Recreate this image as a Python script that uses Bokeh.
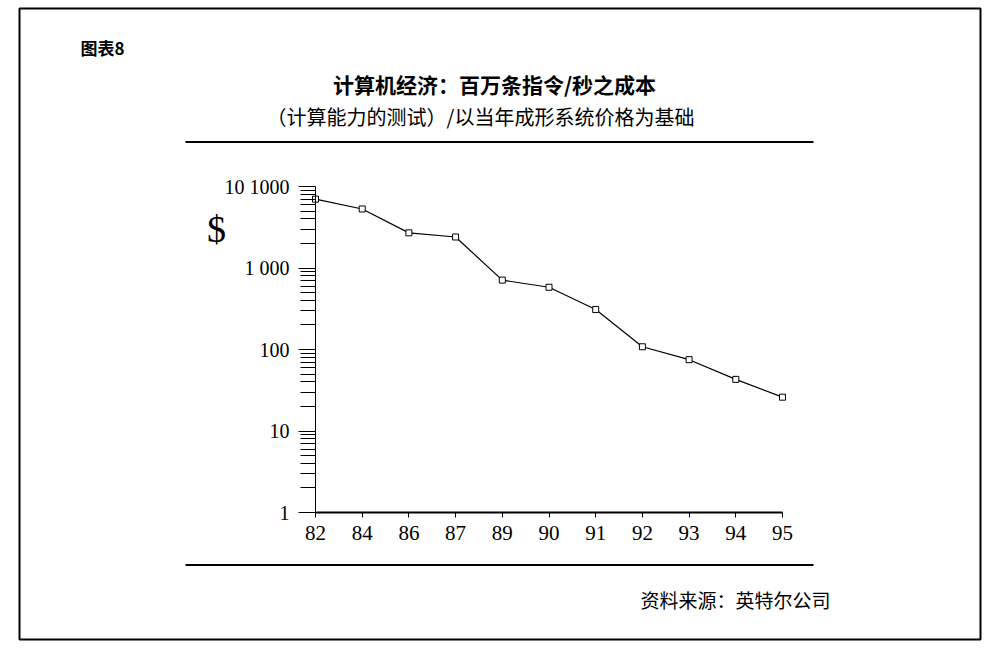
from bokeh.plotting import figure
from bokeh.models import (Range1d, FixedTicker, LinearAxis, LogAxis, LogScale,
                          ColumnDataSource)
from bokeh.core.properties import value
from bokeh.embed import file_html
from bokeh.resources import INLINE

# ---- data ----
years = ["82", "84", "86", "87", "89", "90", "91", "92", "93", "94", "95"]
cost = [7000, 5300, 2700, 2400, 710, 580, 310, 108, 75, 43, 26]
y_ticks = [1, 10, 100, 1000, 10000]
y_tick_labels = ["1", "10", "100", "1 000", "10 1000"]

fig_label = "图表8"
title = "计算机经济：百万条指令/秒之成本"
subtitle = "（计算能力的测试）/以当年成形系统价格为基础"
source_note = "资料来源：英特尔公司"
unit_label = "$"

# ---- layout (canvas pixels, y downward) ----
W, H = 990, 645
PLOT_L, PLOT_R, PLOT_T, PLOT_B = 315, 782, 186, 512
n = len(years)
px_x = (PLOT_R - PLOT_L) / (n - 1)          # pixels per category step
px_dec = (PLOT_B - PLOT_T) / 4.0             # pixels per decade

p = figure(width=W, height=H, output_backend="svg", toolbar_location=None,
           x_range=Range1d(0, W), y_range=Range1d(H, 0),
           x_axis_location=None, y_axis_location=None, min_border=0)
p.outline_line_color = None
p.xgrid.visible = False
p.ygrid.visible = False
p.background_fill_color = "white"
p.border_fill_color = "white"

p.extra_x_ranges = {"chart": Range1d(-PLOT_L / px_x, (W - PLOT_L) / px_x)}
p.extra_y_ranges = {"chart": Range1d(10 ** (-(H - PLOT_B) / px_dec),
                                     10 ** (4 + PLOT_T / px_dec))}
p.extra_y_scales = {"chart": LogScale()}

xs = list(range(n))
src = ColumnDataSource(dict(x=xs, y=cost))
p.line("x", "y", source=src, line_color="black", line_width=1.2,
       x_range_name="chart", y_range_name="chart")
p.scatter("x", "y", source=src, marker="square", size=6,
          fill_color="white", line_color="black", line_width=1,
          x_range_name="chart", y_range_name="chart")

# ---- axes ----
minors = [m * 10 ** k for k in range(4) for m in range(2, 10)]
yax = LogAxis(x_range_name="chart", y_range_name="chart", fixed_location=0,
              bounds=(1, 10000),
              ticker=FixedTicker(ticks=y_ticks, minor_ticks=minors),
              major_label_overrides={t: l for t, l in zip(y_ticks, y_tick_labels)},
              major_tick_out=17, major_tick_in=0, minor_tick_out=15, minor_tick_in=0,
              axis_line_color="black", major_tick_line_color="black",
              minor_tick_line_color="black",
              major_label_text_font="Liberation Serif",
              major_label_text_font_size="20px", major_label_text_color="black",
              major_label_standoff=9)
p.add_layout(yax, "left")

xax = LinearAxis(x_range_name="chart", y_range_name="chart", fixed_location=1,
                 bounds=(0, n - 1),
                 ticker=FixedTicker(ticks=xs, minor_ticks=[]),
                 major_label_overrides={i: y for i, y in zip(xs, years)},
                 major_tick_out=5, major_tick_in=0,
                 axis_line_width=2, axis_line_color="black",
                 major_tick_line_color="black",
                 major_label_text_font="Liberation Serif",
                 major_label_text_font_size="21px", major_label_text_color="black",
                 major_label_standoff=8)
p.add_layout(xax, "below")

# ---- border box and rules ----
p.quad(left=[19], right=[980], top=[8], bottom=[639], fill_color=None,
       line_color="black", line_width=2)
p.segment(x0=[185, 185], x1=[813, 813], y0=[141.5, 564.5], y1=[141.5, 564.5],
          line_color="black", line_width=2)

# ---- texts ----
def lab(text, x, y, size, font="Noto Sans CJK SC", style="normal", align="left"):
    p.text(x=[x], y=[y], text=[text], text_font=value(font), text_font_size=size,
           text_font_style=style, text_color="black", text_align=align,
           text_baseline="middle")

lab(fig_label, 80, 46.5, "17px", style="bold")
lab(title, 494, 83, "21px", style="bold", align="center")
lab(subtitle, 480, 116, "20px", align="center")
lab(source_note, 640, 599, "19px")
lab(unit_label, 216, 228, "38px", font="Liberation Serif", align="center")

open("out.html", "w").write(file_html(p, INLINE))
